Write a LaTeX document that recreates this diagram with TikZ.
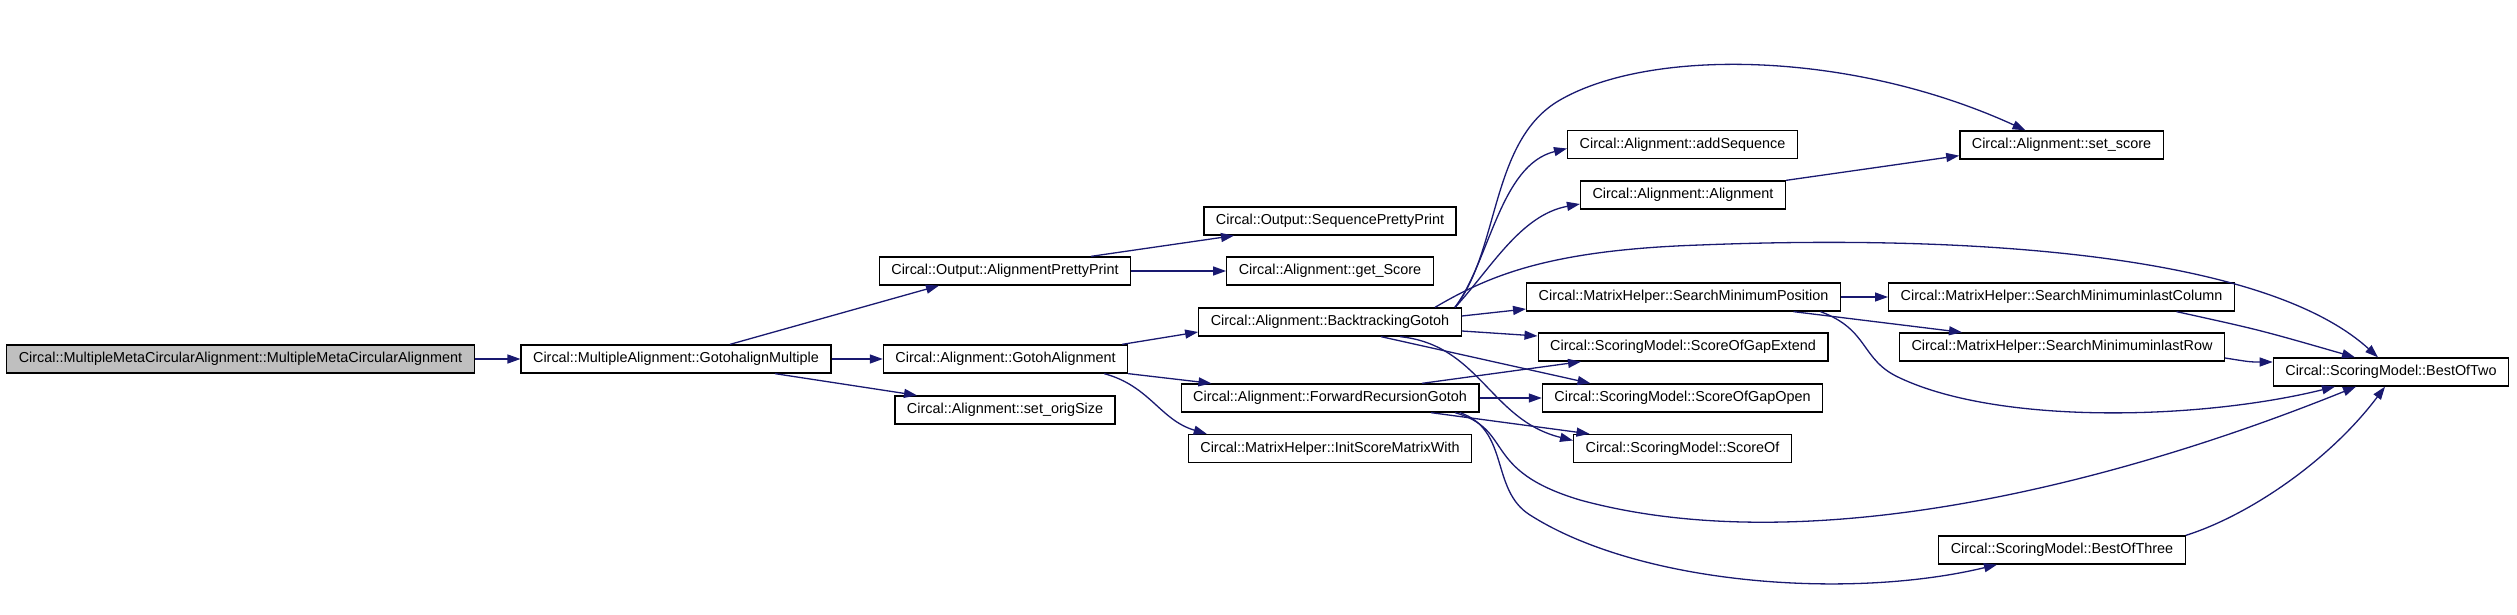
\documentclass[tikz,border=0pt]{standalone}
\usepackage{fontspec}
\setmainfont{Liberation Sans}
\usepackage{tikz}
\usetikzlibrary{arrows.meta, calc}
\definecolor{edgeblue}{HTML}{191970}
\definecolor{rootgrey}{HTML}{BFBFBF}

\begin{document}
\begin{tikzpicture}[
    x=0.5pt, y=-0.5pt,
    fn/.style={draw, line width=0.65pt, fill=white, minimum height=14pt,
               inner xsep=6pt, inner ysep=0pt, font=\fontsize{7.2}{8.6}\selectfont},
    rootfn/.style={fn, fill=rootgrey},
    call/.style={-{Triangle[length=6.5pt, width=4.5pt]}, edgeblue, line width=0.65pt},
]
    \useasboundingbox (0,0) rectangle (2517,615);
    % callers
    \node[rootfn] (root) at (240.5,359) {Circal::MultipleMetaCircularAlignment::MultipleMetaCircularAlignment};
    \node[fn] (gam) at (676,359) {Circal::MultipleAlignment::GotohalignMultiple};
    \node[fn] (app) at (1005,271) {Circal::Output::AlignmentPrettyPrint};
    \node[fn] (ga) at (1005.5,359) {Circal::Alignment::GotohAlignment};
    \node[fn] (sos) at (1005,410) {Circal::Alignment::set\_origSize};
    \node[fn] (spp) at (1330,221) {Circal::Output::SequencePrettyPrint};
    \node[fn] (gs) at (1330,271) {Circal::Alignment::get\_Score};
    \node[fn] (bg) at (1330,322) {Circal::Alignment::BacktrackingGotoh};
    \node[fn] (frg) at (1330,398) {Circal::Alignment::ForwardRecursionGotoh};
    \node[fn] (ismw) at (1330,448.5) {Circal::MatrixHelper::InitScoreMatrixWith};
    % callees
    \node[fn] (adds) at (1682.5,144.5) {Circal::Alignment::addSequence};
    \node[fn] (aln) at (1683,195) {Circal::Alignment::Alignment};
    \node[fn] (smp) at (1683.5,297) {Circal::MatrixHelper::SearchMinimumPosition};
    \node[fn] (soge) at (1683,347) {Circal::ScoringModel::ScoreOfGapExtend};
    \node[fn] (sogo) at (1682.5,398) {Circal::ScoringModel::ScoreOfGapOpen};
    \node[fn] (so) at (1682.5,448.5) {Circal::ScoringModel::ScoreOf};
    \node[fn] (ss) at (2061.5,145) {Circal::Alignment::set\_score};
    \node[fn] (smlc) at (2061.5,297) {Circal::MatrixHelper::SearchMinimuminlastColumn};
    \node[fn] (smlr) at (2062,347) {Circal::MatrixHelper::SearchMinimuminlastRow};
    \node[fn] (bo3) at (2062,550) {Circal::ScoringModel::BestOfThree};
    \node[fn] (bo2) at (2391,372) {Circal::ScoringModel::BestOfTwo};

    \draw[call] (root) -- (gam);
    \draw[call] ($(gam.north)+(54,0)$) -- ($(app.south)+(-66,0)$);
    \draw[call] (gam) -- (ga);
    \draw[call] ($(gam.south)+(99,0)$) -- ($(sos.north)+(-88,0)$);
    \draw[call] ($(app.north)+(86,0)$) -- ($(spp.south)+(-96,0)$);
    \draw[call] (app) -- (gs);
    \draw[call] ($(ga.north east)+(-6,0)$) -- ($(bg.west)+(0,10)$);
    \draw[call] (ga.south east) -- ($(frg.north west)+(31,0)$);
    \draw[call] ($(ga.south east)+(-24,0)$) .. controls (1150,386) and (1160,420) .. ($(ismw.north west)+(19,0)$);
    % BacktrackingGotoh
    \draw[call] ($(bg.north)+(125,0)$) .. controls (1490,260) and (1500,165) .. ($(adds.west)+(0,4)$);
    \draw[call] ($(bg.north)+(125,0)$) .. controls (1490,270) and (1520,215) .. ($(aln.west)+(0,9)$);
    \draw[call] ($(bg.north)+(125,0)$) .. controls (1500,250) and (1490,140) .. (1560,100)
        .. controls (1650,48) and (1850,50) .. ($(ss.north)+(-36,0)$);
    \draw[call] ($(bg.north)+(105,0)$) .. controls (1490,275) and (1550,250) .. (1700,245)
        .. controls (1950,235) and (2260,250) .. ($(bo2.north)+(-13,0)$);
    \draw[call] ($(bg.east)+(0,-6)$) -- ($(smp.west)+(0,12)$);
    \draw[call] ($(bg.east)+(0,9)$) -- ($(soge.west)+(0,-11)$);
    \draw[call] ($(bg.south)+(51,0)$) -- ($(sogo.north)+(-92,0)$);
    \draw[call] ($(bg.south)+(70,0)$) .. controls (1480,345) and (1490,420) .. ($(so.west)+(0,-8)$);
    % ForwardRecursionGotoh
    \draw[call] ($(frg.north)+(92,0)$) -- ($(soge.south)+(-102,0)$);
    \draw[call] (frg) -- (sogo);
    \draw[call] ($(frg.south)+(101,0)$) -- ($(so.north)+(-93,0)$);
    \draw[call] ($(frg.south)+(125,0)$) .. controls (1515,430) and (1480,470) .. (1580,500)
        .. controls (1800,560) and (2100,490) .. ($(bo2.south)+(-35,0)$);
    \draw[call] ($(frg.south)+(130,0)$) .. controls (1510,430) and (1490,490) .. (1530,515)
        .. controls (1640,585) and (1850,600) .. ($(bo3.south)+(-65,0)$);
    % right part
    \draw[call] (aln.north east) -- ($(ss.south west)+(0,-4)$);
    \draw[call] (smp) -- (smlc);
    \draw[call] ($(smp.south)+(110,0)$) -- ($(smlr.north)+(-100,0)$);
    \draw[call] ($(smp.south)+(137,0)$) .. controls (1870,330) and (1860,360) .. (1900,378)
        .. controls (2000,425) and (2200,420) .. ($(bo2.south)+(-56,0)$);
    \draw[call] ($(smlc.south)+(115,0)$) .. controls (2260,330) .. ($(bo2.north)+(-36,0)$);
    \draw[call] ($(smlr.east)+(0,11)$) .. controls (2250,362) .. ($(bo2.west)+(0,-10)$);
    \draw[call] (bo3.north east) .. controls (2250,515) and (2330,460) .. ($(bo2.south)+(-6,0)$);
\end{tikzpicture}
\end{document}
